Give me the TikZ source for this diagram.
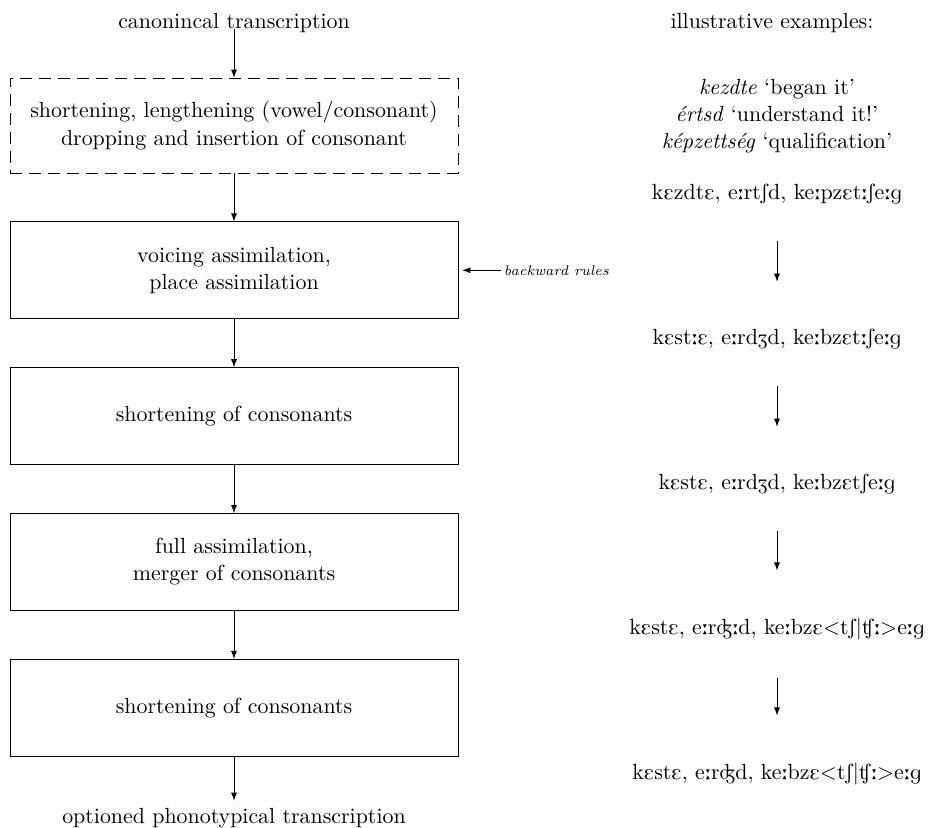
\documentclass[11pt,tikz,border=0pt]{standalone}
\usepackage{tipa}
\usepackage{tikz}
\usetikzlibrary{positioning}

\begin{document}
\begin{tikzpicture}[node distance=24pt,>=latex,
  rule/.style={draw, minimum width=224pt, minimum height=48.5pt, align=center}]
\useasboundingbox (0,0) rectangle (470.5pt,-414pt);
\coordinate (rc) at (386pt,0);
\node[rule, dash pattern=on 6pt off 3.5pt, minimum height=47.5pt] (r1) at (117pt,-62.75pt)
  {shortening, lengthening (vowel/consonant)\\dropping and insertion of consonant};
\node[rule, below=of r1] (r2) {voicing assimilation,\\place assimilation};
\node[rule, below=of r2] (r3) {shortening of consonants};
\node[rule, below=of r3] (r4) {full assimilation,\\merger of consonants};
\node[rule, below=of r4] (r5) {shortening of consonants};
\node[above=18.5pt of r1] (in) {canonincal transcription};
\node[below=22pt of r5] (out) {optioned phonotypical transcription};
\node[right=21.5pt of r2, inner sep=1pt, font=\fontsize{7pt}{8pt}\selectfont\itshape] (back) {backward rules};
\node[anchor=base] (illu) at (rc |- in.base) {illustrative examples:};
\node[align=center] (ex) at (388.5pt,-58pt)
  {\textit{kezdte} `began it'\\\textit{értsd} `understand it!'\\\textit{képzettség} `qualification'};
\node (p1) at (388.5pt,-97pt) {\textipa{kEzdtE, e:rtSd, ke:pzEt:Se:g}};
\node (p2) at (388.5pt,-169.5pt) {\textipa{kEst:E, e:rdZd, ke:bzEt:Se:g}};
\node (p3) at (388.5pt,-242pt) {\textipa{kEstE, e:rdZd, ke:bzEtSe:g}};
\node (p4) at (388.5pt,-314.5pt)
  {\textipa{kEstE, e:r\textdyoghlig:d, ke:bzE}<\textipa{tS}|\textipa{\textteshlig:}>\textipa{e:g}};
\node (p5) at (388.5pt,-387pt)
  {\textipa{kEstE, e:r\textdyoghlig d, ke:bzE}<\textipa{tS}|\textipa{\textteshlig:}>\textipa{e:g}};
\draw[->] (in.base -| r1.north) -- (r1);
\foreach \a/\b in {r1/r2,r2/r3,r3/r4,r4/r5,r5/out}
  \draw[->] (\a) -- (\b);
\draw[->, shorten >=2pt] (back) -- (r2);
\foreach \a/\b in {p1/p2,p2/p3,p3/p4,p4/p5}
  \draw[->, shorten <=15pt, shorten >=20pt] (\a) -- (\b);
\end{tikzpicture}
\end{document}
